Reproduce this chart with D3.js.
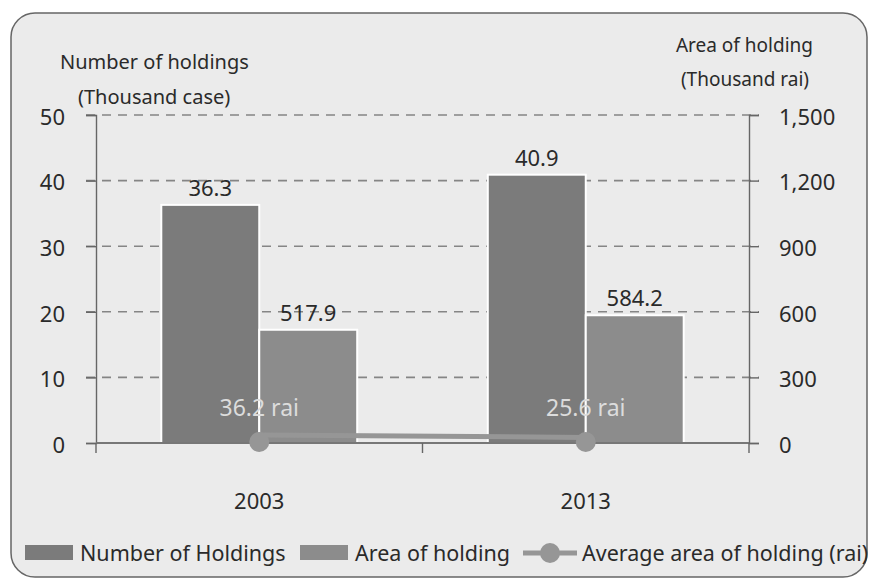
<!DOCTYPE html>
<html>
<head>
<meta charset="utf-8">
<script src="https://cdn.jsdelivr.net/npm/d3@7"></script>
<style>
  body { margin: 0; background: #fff; }
  text { font-family: "Noto Sans", sans-serif; fill: #2a2a2a; }
</style>
</head>
<body>
<div id="chart"></div>
<script>
// data
const years = ["2003", "2013"];
const holdings = [36.3, 40.9];        // thousand case (left axis)
const areaHolding = [517.9, 584.2];   // thousand rai (right axis)
const avgArea = [36.2, 25.6];         // rai
const leftTicks = [0, 10, 20, 30, 40, 50];
const rightTicks = [0, 300, 600, 900, 1200, 1500];

const width = 873, height = 580;
const margin = {top: 115, right: 124, bottom: 137, left: 96};

let svg = d3.select("#chart").append("svg")
  .attr("width", width)
  .attr("height", height);

// card background
svg.append("rect")
  .attr("x", 11).attr("y", 13)
  .attr("width", 856).attr("height", 564)
  .attr("rx", 24)
  .style("fill", "#ebebeb")
  .style("stroke", "#666")
  .style("stroke-width", 1.5);

let x = d3.scaleBand()
  .domain(years)
  .range([margin.left, width - margin.right]);

let yL = d3.scaleLinear()
  .domain([0, 50])
  .range([height - margin.bottom, margin.top]);

let yR = d3.scaleLinear()
  .domain([0, 1500])
  .range([height - margin.bottom, margin.top]);

let barW = x.bandwidth() * 0.3;

// dashed gridlines
svg.append("g")
  .selectAll("line")
  .data(leftTicks.filter(d => d > 0))
  .enter()
  .append("line")
  .attr("x1", margin.left - 10)
  .attr("x2", width - margin.right + 10)
  .attr("y1", d => yL(d))
  .attr("y2", d => yL(d))
  .style("stroke", "#858585")
  .style("stroke-width", 1.6)
  .style("stroke-dasharray", "9,7");

// bars
svg.selectAll("rect.num")
  .data(holdings)
  .enter()
  .append("rect")
  .attr("class", "num")
  .attr("x", (d, i) => x(years[i]) + x.bandwidth() / 2 - barW)
  .attr("y", d => yL(d))
  .attr("width", barW)
  .attr("height", d => yL(0) - yL(d))
  .style("fill", "#7b7b7b")
  .style("stroke", "#fff")
  .style("stroke-width", 2);

svg.selectAll("rect.area")
  .data(areaHolding)
  .enter()
  .append("rect")
  .attr("class", "area")
  .attr("x", (d, i) => x(years[i]) + x.bandwidth() / 2)
  .attr("y", d => yR(d))
  .attr("width", barW)
  .attr("height", d => yR(0) - yR(d))
  .style("fill", "#8c8c8c")
  .style("stroke", "#fff")
  .style("stroke-width", 2);

// axes
let leftAxis = d3.axisLeft(yL).tickValues(leftTicks).tickSize(10).tickFormat(d3.format(","));
let rightAxis = d3.axisRight(yR).tickValues(rightTicks).tickSize(10).tickFormat(d3.format(","));

let gL = svg.append("g")
  .attr("transform", `translate(${margin.left},0)`)
  .call(leftAxis);
gL.selectAll("text").style("font-size", "22px").attr("x", -31).attr("dy", "0.42em");

let gR = svg.append("g")
  .attr("transform", `translate(${width - margin.right},0)`)
  .call(rightAxis);
gR.selectAll("text").style("font-size", "22px").attr("x", 30).attr("dy", "0.42em");

[gL, gR].forEach(g => {
  g.select(".domain").style("stroke", "#666").style("stroke-width", 1.4);
  g.selectAll(".tick line").style("stroke", "#666").style("stroke-width", 1.4);
  g.selectAll("text").style("fill", "#2a2a2a");
});

// x baseline with category separators
let gB = svg.append("g")
  .attr("transform", `translate(0,${yL(0)})`);
gB.append("line")
  .attr("x1", margin.left).attr("x2", width - margin.right)
  .style("stroke", "#777").style("stroke-width", 2);
gB.selectAll("line.sep")
  .data([margin.left, x("2013"), width - margin.right])
  .enter()
  .append("line")
  .attr("class", "sep")
  .attr("x1", d => d).attr("x2", d => d)
  .attr("y1", 0).attr("y2", 10)
  .style("stroke", "#666").style("stroke-width", 1.4);

// category labels
svg.selectAll("text.cat")
  .data(years)
  .enter()
  .append("text")
  .attr("class", "cat")
  .attr("x", d => x(d) + x.bandwidth() / 2)
  .attr("y", yL(0) + 66)
  .style("text-anchor", "middle")
  .style("font-size", "22px")
  .text(d => d);

// average line (plotted on right axis)
let line = d3.line()
  .x((d, i) => x(years[i]) + x.bandwidth() / 2)
  .y(d => yR(d));

svg.append("path")
  .datum(avgArea)
  .attr("d", line)
  .style("fill", "none")
  .style("stroke", "#969696")
  .style("stroke-width", 5);

svg.selectAll("circle.avg")
  .data(avgArea)
  .enter()
  .append("circle")
  .attr("class", "avg")
  .attr("cx", (d, i) => x(years[i]) + x.bandwidth() / 2)
  .attr("cy", d => yR(0) - 1)
  .attr("r", 10)
  .style("fill", "#969696");

// value labels
svg.selectAll("text.numLabel")
  .data(holdings)
  .enter()
  .append("text")
  .attr("class", "numLabel")
  .attr("x", (d, i) => x(years[i]) + x.bandwidth() / 2 - barW / 2)
  .attr("y", d => yL(d) - 9)
  .style("text-anchor", "middle")
  .style("font-size", "22px")
  .text(d => d.toFixed(1));

svg.selectAll("text.areaLabel")
  .data(areaHolding)
  .enter()
  .append("text")
  .attr("class", "areaLabel")
  .attr("x", (d, i) => x(years[i]) + x.bandwidth() / 2 + barW / 2)
  .attr("y", d => yR(d) - 9)
  .style("text-anchor", "middle")
  .style("font-size", "22px")
  .text(d => d.toFixed(1));

svg.selectAll("text.avgLabel")
  .data(avgArea)
  .enter()
  .append("text")
  .attr("class", "avgLabel")
  .attr("x", (d, i) => x(years[i]) + x.bandwidth() / 2)
  .attr("y", yL(0) - 27)
  .style("text-anchor", "middle")
  .style("font-size", "23px")
  .style("fill", "#dcdcdc")
  .text(d => d.toFixed(1) + " rai");

// axis titles
svg.append("text").attr("x", 60).attr("y", 69)
  .style("font-size", "20px").text("Number of holdings");
svg.append("text").attr("x", 78).attr("y", 104)
  .style("font-size", "20px").text("(Thousand case)");
svg.append("text").attr("x", 813).attr("y", 52)
  .style("font-size", "19px").style("text-anchor", "end").text("Area of holding");
svg.append("text").attr("x", 809).attr("y", 86)
  .style("font-size", "19px").style("text-anchor", "end").text("(Thousand rai)");

// legend
let legY = 553;
let leg = svg.append("g");
leg.append("rect").attr("x", 25).attr("y", legY - 8).attr("width", 48).attr("height", 15)
  .style("fill", "#7b7b7b");
leg.append("text").attr("x", 80).attr("y", legY + 8).style("font-size", "21.5px")
  .text("Number of Holdings");
leg.append("rect").attr("x", 300).attr("y", legY - 8).attr("width", 48).attr("height", 15)
  .style("fill", "#8c8c8c");
leg.append("text").attr("x", 355).attr("y", legY + 8).style("font-size", "21.5px")
  .text("Area of holding");
leg.append("line").attr("x1", 523).attr("x2", 577).attr("y1", legY).attr("y2", legY)
  .style("stroke", "#969696").style("stroke-width", 5);
leg.append("circle").attr("cx", 550).attr("cy", legY).attr("r", 10)
  .style("fill", "#969696");
leg.append("text").attr("x", 582).attr("y", legY + 8).style("font-size", "21.5px")
  .text("Average area of holding (rai)");
</script>
</body>
</html>
